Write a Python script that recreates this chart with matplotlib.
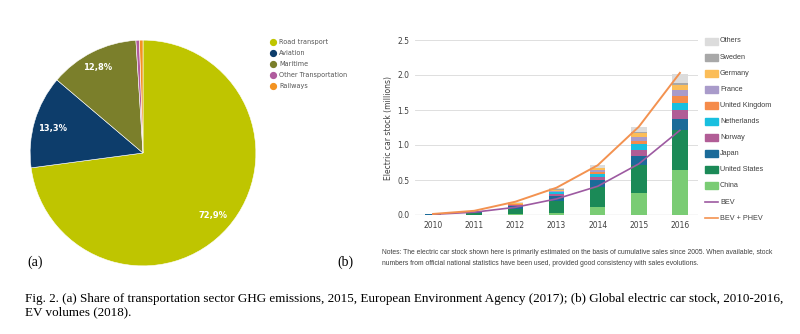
import numpy as np
import matplotlib
matplotlib.use('Agg')
import matplotlib.pyplot as plt
from matplotlib.patches import Rectangle
from matplotlib.lines import Line2D

W, H = 800, 334

# ── (a) pie data ──
pie_labels = ['Road transport', 'Aviation', 'Maritime', 'Other Transportation', 'Railways']
pie_values = [72.9, 13.3, 12.8, 0.5, 0.5]
pie_colors = ['#bfc500', '#0d3d6b', '#7b7f2b', '#b05c9e', '#f39321']
pie_texts = ['72,9%', '13,3%', '12,8%', '', '']

# ── (b) electric car stock (millions) ──
years = [2010, 2011, 2012, 2013, 2014, 2015, 2016]
countries = ['China', 'United States', 'Japan', 'Norway', 'Netherlands',
             'United Kingdom', 'France', 'Germany', 'Sweden', 'Others']
stock = {
    'China':          [0.002, 0.007, 0.017, 0.032, 0.110, 0.313, 0.645],
    'United States':  [0.004, 0.022, 0.075, 0.172, 0.290, 0.404, 0.570],
    'Japan':          [0.004, 0.013, 0.041, 0.069, 0.100, 0.126, 0.152],
    'Norway':         [0.003, 0.005, 0.010, 0.020, 0.043, 0.084, 0.133],
    'Netherlands':    [0.001, 0.001, 0.007, 0.029, 0.045, 0.088, 0.105],
    'United Kingdom': [0.001, 0.001, 0.004, 0.009, 0.024, 0.049, 0.098],
    'France':         [0.001, 0.003, 0.010, 0.019, 0.031, 0.055, 0.078],
    'Germany':        [0.001, 0.002, 0.006, 0.012, 0.025, 0.050, 0.074],
    'Sweden':         [0.000, 0.000, 0.001, 0.003, 0.008, 0.016, 0.032],
    'Others':         [0.003, 0.005, 0.010, 0.020, 0.040, 0.075, 0.130],
}
bev = [0.01, 0.04, 0.11, 0.23, 0.41, 0.73, 1.21]
bev_phev = [0.015, 0.06, 0.19, 0.39, 0.71, 1.26, 2.03]
colors_b = {
    'China': '#7acc74', 'United States': '#1b8a57', 'Japan': '#1b6b99',
    'Norway': '#b15d96', 'Netherlands': '#19bfdf', 'United Kingdom': '#f58b4a',
    'France': '#a99bca', 'Germany': '#fbbd58', 'Sweden': '#a8a8a8', 'Others': '#dcdcdc',
}
bev_color = '#9d5aa1'
phev_color = '#f39250'
yticks = [0.0, 0.5, 1.0, 1.5, 2.0, 2.5]

notes = ('Notes: The electric car stock shown here is primarily estimated on the basis of cumulative sales since 2005. When available, stock\n'
         'numbers from official national statistics have been used, provided good consistency with sales evolutions.')
caption = ('Fig. 2. (a) Share of transportation sector GHG emissions, 2015, European Environment Agency (2017); (b) Global electric car stock, 2010-2016,\n'
           'EV volumes (2018).')

fig = plt.figure(figsize=(W / 100, H / 100), dpi=100)
fig.patch.set_facecolor('white')

def fx(px):
    return px / W

def fy(py):
    return 1 - py / H

# ── pie ──
cx, cy, r = 143, 153, 114
ax1 = fig.add_axes([fx(cx - r), fy(cy + r), 2 * r / W, 2 * r / H])
wedges, _ = ax1.pie(pie_values, colors=pie_colors, startangle=90, counterclock=False,
                    wedgeprops=dict(edgecolor='white', linewidth=0.4))
label_pos = [(0.62, -0.55), (-0.80, 0.22), (-0.40, 0.76)]
for (lx, ly), t in zip(label_pos, pie_texts):
    ax1.text(lx, ly, t, color='white', fontsize=6, ha='center', va='center', fontweight='bold')
ax1.set_xlim(-1.01, 1.01)
ax1.set_ylim(-1.01, 1.01)
ax1.axis('off')

for i, (lab, col) in enumerate(zip(pie_labels, pie_colors)):
    yy = 42 + i * 11
    fig.add_artist(Line2D([fx(273)], [fy(yy)], marker='o', markersize=4.2, color=col,
                          linestyle='none', transform=fig.transFigure))
    fig.text(fx(279), fy(yy), lab, fontsize=4.7, color='#555555', va='center', ha='left')

# ── stacked bars ──
ax2 = fig.add_axes([fx(415), fy(215), fx(698 - 415), (215 - 40) / H])
bottom = np.zeros(len(years))
for c in countries:
    vals = np.array(stock[c])
    ax2.bar(years, vals, width=0.38, bottom=bottom, color=colors_b[c], zorder=2)
    bottom += vals
ax2.plot(years, bev, color=bev_color, linewidth=1.2, zorder=3)
ax2.plot(years, bev_phev, color=phev_color, linewidth=1.4, zorder=3)
ax2.set_xlim(2009.56, 2016.44)
ax2.set_ylim(0, 2.5)
ax2.set_yticks(yticks)
ax2.set_yticklabels([f'{v:.1f}' for v in yticks])
ax2.set_xticks(years)
ax2.grid(axis='y', color='#d9d9d9', linewidth=0.6, zorder=0)
for s in ax2.spines.values():
    s.set_visible(False)
ax2.axhline(0, color='#7f7f7f', linewidth=0.8, zorder=1)
ax2.tick_params(length=0, labelsize=5.5, labelcolor='#404040', pad=4)
ax2.set_ylabel('Electric car stock (millions)', fontsize=5.5, color='#404040', labelpad=3)

leg_items = [(c, 'patch') for c in countries[::-1]] + [('BEV', 'line'), ('BEV + PHEV', 'line')]
for i, (lab, kind) in enumerate(leg_items):
    yy = 41 + i * 16.1
    if kind == 'patch':
        fig.add_artist(Rectangle((fx(705), fy(yy + 3.5)), fx(13), 7 / H,
                                 color=colors_b[lab], transform=fig.transFigure))
    else:
        col = bev_color if lab == 'BEV' else phev_color
        fig.add_artist(Line2D([fx(705), fx(718)], [fy(yy), fy(yy)], color=col,
                              linewidth=1.2, transform=fig.transFigure))
    fig.text(fx(720), fy(yy), lab, fontsize=5.2, color='#404040', va='center', ha='left',
             family='Liberation Sans')

fig.text(fx(382), fy(258), notes, fontsize=4.85, color='#404040', va='center', ha='left',
         family='Liberation Sans', linespacing=1.75)

fig.text(fx(27), fy(262), '(a)', fontsize=10, family='Liberation Serif', va='center')
fig.text(fx(337), fy(262), '(b)', fontsize=10, family='Liberation Serif', va='center')

fig.text(fx(25), fy(305.5), caption, fontsize=9.45, family='Liberation Serif', va='center',
         ha='left', linespacing=1.2)

fig.savefig('out.png', dpi=100, facecolor='white')
